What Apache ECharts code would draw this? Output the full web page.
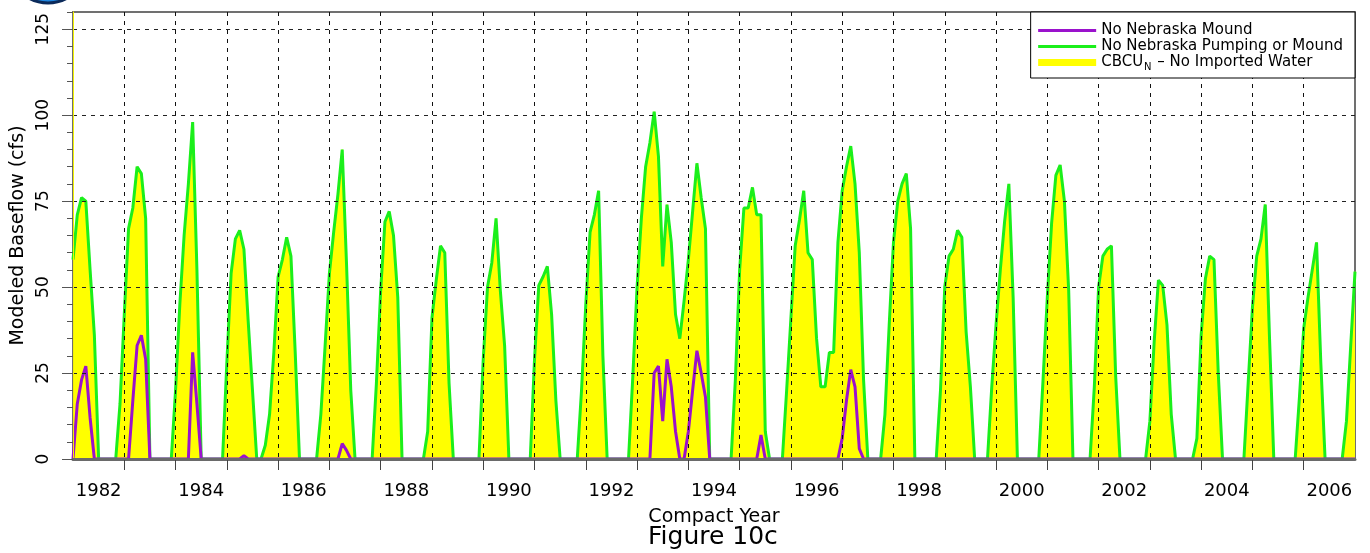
<!DOCTYPE html>
<html>
<head>
<meta charset="utf-8">
<script src="https://cdn.jsdelivr.net/npm/echarts@6/dist/echarts.min.js"></script>
<style>
  html, body { margin: 0; padding: 0; background: #fff; }
  #chart { width: 1370px; height: 553px; }
</style>
</head>
<body>
<div id="chart"></div>
<script>
// Monthly values, Jan 1982 .. Dec 2006 (one row per compact year), plus the value at 2007.0
const startYear = 1982;
const endYear = 2007;
// compact-year categories (tick labels; every other one is shown)
const compactYears = ['1982', '1983', '1984', '1985', '1986', '1987', '1988', '1989', '1990',
  '1991', '1992', '1993', '1994', '1995', '1996', '1997', '1998', '1999', '2000', '2001',
  '2002', '2003', '2004', '2005', '2006'];
// year boundaries that carry a tick mark below the axis
const tickYears = [1983, 1984, 1985, 1986, 1987, 1988, 1989, 1990, 1991, 1992, 1993, 1994,
  1995, 1996, 1997, 1998, 1999, 2000, 2001, 2002, 2003, 2004, 2005, 2006];

const noPumpingOrMound = [
  58, 71, 76, 75, 55, 36, 0, 0, 0, 0, 0, 16,        // 1982
  42, 67, 73, 85, 83, 70, 0, 0, 0, 0, 0, 0,         // 1983
  20, 45, 65, 80, 98, 55, 0, 0, 0, 0, 0, 0,         // 1984
  28, 54, 64, 66.5, 61, 40, 20, 0, 0, 4, 13, 31,    // 1985
  53, 58, 64.5, 59, 31, 0, 0, 0, 0, 0, 13, 33,      // 1986
  54, 66, 77, 90, 57, 20, 0, 0, 0, 0, 0, 22,        // 1987
  49, 69, 72, 65, 47, 0, 0, 0, 0, 0, 0, 8,          // 1988
  41, 52, 62, 60, 22, 0, 0, 0, 0, 0, 0, 0,          // 1989
  29, 50, 57, 70, 49, 33, 0, 0, 0, 0, 0, 0,         // 1990
  29, 50.5, 53, 56, 42, 17, 0, 0, 0, 0, 0, 20,      // 1991
  45, 66, 71, 78, 30, 0, 0, 0, 0, 0, 0, 24,         // 1992
  50, 70, 85, 92, 101, 88, 56, 74, 63, 42, 35, 46,  // 1993
  58, 72, 86, 76, 67, 0, 0, 0, 0, 0, 0, 23,         // 1994
  55, 73, 73, 79, 71, 71, 8, 0, 0, 0, 0, 20,        // 1995
  41, 62, 69.5, 78, 60, 58, 35, 21, 21, 31, 31, 63, // 1996
  78, 85, 91, 80, 60, 23, 0, 0, 0, 0, 13, 39,       // 1997
  63, 75, 80, 83, 67, 0, 0, 0, 0, 0, 0, 20,         // 1998
  50, 59, 61, 66.5, 64.5, 37, 21, 0, 0, 0, 0, 21,   // 1999
  39, 55, 69, 80, 47, 0, 0, 0, 0, 0, 0, 23,         // 2000
  47, 68.5, 82.5, 85.5, 75, 49, 0, 0, 0, 0, 0, 21,  // 2001
  50, 59, 61, 62, 24, 0, 0, 0, 0, 0, 0, 0,          // 2002
  11, 34, 52, 50.5, 39, 13, 0, 0, 0, 0, 0, 6,       // 2003
  36, 52.5, 59, 58, 25, 0, 0, 0, 0, 0, 0, 22,       // 2004
  44, 59, 64, 74, 35, 0, 0, 0, 0, 0, 0, 18,         // 2005
  38, 47, 55, 63, 28, 0, 0, 0, 0, 0, 11, 33,        // 2006
  54.5                                              // 2007.0
];

const noMound = [
  0, 16, 23, 27, 12, 0, 0, 0, 0, 0, 0, 0,           // 1982
  0, 0, 17, 33, 36, 29, 0, 0, 0, 0, 0, 0,           // 1983
  0, 0, 0, 0, 31, 16, 0, 0, 0, 0, 0, 0,             // 1984
  0, 0, 0, 0, 1, 0, 0, 0, 0, 0, 0, 0,               // 1985
  0, 0, 0, 0, 0, 0, 0, 0, 0, 0, 0, 0,               // 1986
  0, 0, 0, 4.5, 2.5, 0, 0, 0, 0, 0, 0, 0,           // 1987
  0, 0, 0, 0, 0, 0, 0, 0, 0, 0, 0, 0,               // 1988
  0, 0, 0, 0, 0, 0, 0, 0, 0, 0, 0, 0,               // 1989
  0, 0, 0, 0, 0, 0, 0, 0, 0, 0, 0, 0,               // 1990
  0, 0, 0, 0, 0, 0, 0, 0, 0, 0, 0, 0,               // 1991
  0, 0, 0, 0, 0, 0, 0, 0, 0, 0, 0, 0,               // 1992
  0, 0, 0, 0, 25, 27, 11, 29, 21, 8, 0, 0,          // 1993
  8, 20, 31.5, 25, 18, 0, 0, 0, 0, 0, 0, 0,         // 1994
  0, 0, 0, 0, 0, 7, 0, 0, 0, 0, 0, 0,               // 1995
  0, 0, 0, 0, 0, 0, 0, 0, 0, 0, 0, 0,               // 1996
  6, 17, 26, 21, 3, 0, 0, 0, 0, 0, 0, 0,            // 1997
  0, 0, 0, 0, 0, 0, 0, 0, 0, 0, 0, 0,               // 1998
  0, 0, 0, 0, 0, 0, 0, 0, 0, 0, 0, 0,               // 1999
  0, 0, 0, 0, 0, 0, 0, 0, 0, 0, 0, 0,               // 2000
  0, 0, 0, 0, 0, 0, 0, 0, 0, 0, 0, 0,               // 2001
  0, 0, 0, 0, 0, 0, 0, 0, 0, 0, 0, 0,               // 2002
  0, 0, 0, 0, 0, 0, 0, 0, 0, 0, 0, 0,               // 2003
  0, 0, 0, 0, 0, 0, 0, 0, 0, 0, 0, 0,               // 2004
  0, 0, 0, 0, 0, 0, 0, 0, 0, 0, 0, 0,               // 2005
  0, 0, 0, 0, 0, 0, 0, 0, 0, 0, 0, 0,               // 2006
  0                                                 // 2007.0
];

// CBCU_N with no imported water: its filled area coincides with the green curve
const cbcuNoImportedWater = noPumpingOrMound.slice();

const nameMound = 'No Nebraska Mound';
const namePump = 'No Nebraska Pumping or Mound';
const nameCbcu = 'CBCU_N - No Imported Water';

const toPairs = arr => arr.map((v, i) => [startYear + i / 12, v]);

const FONT = 'DejaVu Sans';
const chart = echarts.init(document.getElementById('chart'), null, { renderer: 'canvas' });

const option = {
  animation: false,
  backgroundColor: '#ffffff',
  textStyle: { fontFamily: FONT },
  title: {
    text: 'Figure 10c',
    left: 648, top: 525, padding: 0,
    textStyle: { fontFamily: FONT, fontSize: 25, fontWeight: 'normal', color: '#000' }
  },
  graphic: [{
    type: 'circle', shape: { cx: 48, cy: -36, r: 39 },
    style: { fill: '#1f86e0', stroke: '#0b2a5a', lineWidth: 3 }, z: 100
  }],
  grid: [{
    left: 73, right: 15, top: 12, bottom: 94,
    show: true, borderColor: '#707070', borderWidth: 2, backgroundColor: 'transparent'
  }, {
    // thin strip under the plot that carries the year-boundary tick marks
    left: 73, right: 15, top: 460, height: 10, show: false
  }],
  legend: {
    orient: 'vertical', right: 15, top: 12, z: 20,
    itemWidth: 58, itemHeight: 12, itemGap: 1,
    padding: [11, 12, 6, 4],
    backgroundColor: '#fff', borderColor: '#000', borderWidth: 1,
    textStyle: {
      fontFamily: FONT, fontSize: 15, color: '#000',
      rich: {
        n: { fontFamily: FONT, fontSize: 15, color: '#000' },
        s: { fontFamily: FONT, fontSize: 10, color: '#000', padding: [9, 1, 0, 1] }
      }
    },
    formatter: name => name === nameCbcu ? '{n|CBCU}{s|N}{n| \u2013 No Imported Water}' : name,
    data: [
      { name: nameMound, lineStyle: { width: 3 }, itemStyle: { opacity: 0 } },
      { name: namePump, lineStyle: { width: 3 }, itemStyle: { opacity: 0 } },
      { name: nameCbcu, lineStyle: { width: 7, color: '#ffff00' }, itemStyle: { opacity: 0 } }
    ]
  },
  xAxis: [{
    // value axis carrying the monthly series, axis line and dashed year grid
    type: 'value', gridIndex: 0, min: startYear, max: endYear, interval: 1, z: 5,
    axisLine: { show: true, onZero: false, lineStyle: { color: '#6a6a6a', width: 3 } },
    axisTick: { show: false },
    axisLabel: { show: false },
    splitLine: { show: true, showMinLine: false, showMaxLine: false,
      lineStyle: { type: [4, 5], color: '#111', width: 1 } },
    name: 'Compact Year', nameLocation: 'middle', nameGap: 49,
    nameTextStyle: { fontFamily: FONT, fontSize: 19, color: '#000' }
  }, {
    // compact-year bands: labels mid-year
    type: 'category', gridIndex: 0, data: compactYears, boundaryGap: true, position: 'bottom', z: 6,
    axisLine: { show: false, onZero: false },
    axisTick: { show: false },
    axisLabel: { show: true, interval: 1, margin: 23, fontFamily: FONT, fontSize: 18, color: '#000' },
    splitLine: { show: false }
  }, {
    // year-boundary tick strip below the axis
    type: 'value', gridIndex: 1, min: startYear, max: endYear, interval: 1, z: 6,
    axisLine: { show: false }, axisTick: { show: false }, axisLabel: { show: false },
    splitLine: { show: true, showMinLine: false, showMaxLine: false,
      lineStyle: { type: 'solid', color: '#444', width: 1 } }
  }],
  yAxis: [{
    type: 'value', gridIndex: 0, min: 0, max: 130, interval: 25, z: 5,
    axisLine: { show: true, lineStyle: { color: '#f2f200', width: 1 } },
    axisTick: { show: true, length: 11, lineStyle: { color: '#555', width: 1 } },
    axisLabel: { show: true, rotate: 90, margin: 21, showMaxLabel: false,
      fontFamily: FONT, fontSize: 17, color: '#000' },
    splitLine: { show: true, showMaxLine: false,
      lineStyle: { type: [4, 5], color: '#222', width: 1 } },
    name: 'Modeled Baseflow (cfs)', nameLocation: 'middle', nameGap: 41,
    nameTextStyle: { fontFamily: FONT, fontSize: 19, color: '#000' }
  }, {
    type: 'value', gridIndex: 0, min: 0, max: 130, interval: 5, position: 'left', z: 5,
    axisLine: { show: false },
    axisTick: { show: true, length: 6, lineStyle: { color: '#555', width: 1 } },
    axisLabel: { show: false }, splitLine: { show: false }
  }, {
    type: 'value', gridIndex: 1, min: 0, max: 1, show: false
  }],
  series: [{
    name: nameCbcu, type: 'line', xAxisIndex: 0, yAxisIndex: 0, z: 1,
    symbol: 'none', data: toPairs(cbcuNoImportedWater),
    lineStyle: { width: 1, color: '#ffff00' }, itemStyle: { color: '#ffff00' },
    areaStyle: { color: '#ffff00', opacity: 1 }
  }, {
    name: namePump, type: 'line', xAxisIndex: 0, yAxisIndex: 0, z: 2,
    symbol: 'none', data: toPairs(noPumpingOrMound),
    lineStyle: { width: 3, color: '#1bef1b' }, itemStyle: { color: '#1bef1b' }
  }, {
    name: nameMound, type: 'line', xAxisIndex: 0, yAxisIndex: 0, z: 3,
    symbol: 'none', data: toPairs(noMound),
    lineStyle: { width: 3, color: '#9a12cc' }, itemStyle: { color: '#9a12cc' }
  }, {
    // tick marks at each year boundary in the strip below the plot
    name: 'yearTicks', type: 'line', xAxisIndex: 2, yAxisIndex: 2, z: 6,
    symbol: 'none', data: [], silent: true, legendHoverLink: false,
    markLine: {
      silent: true, symbol: ['none', 'none'], animation: false,
      label: { show: false },
      lineStyle: { type: 'solid', color: '#444', width: 1 },
      emphasis: { disabled: true },
      data: tickYears.map(y => ({ xAxis: y }))
    }
  }]
};

chart.setOption(option);
</script>
</body>
</html>
